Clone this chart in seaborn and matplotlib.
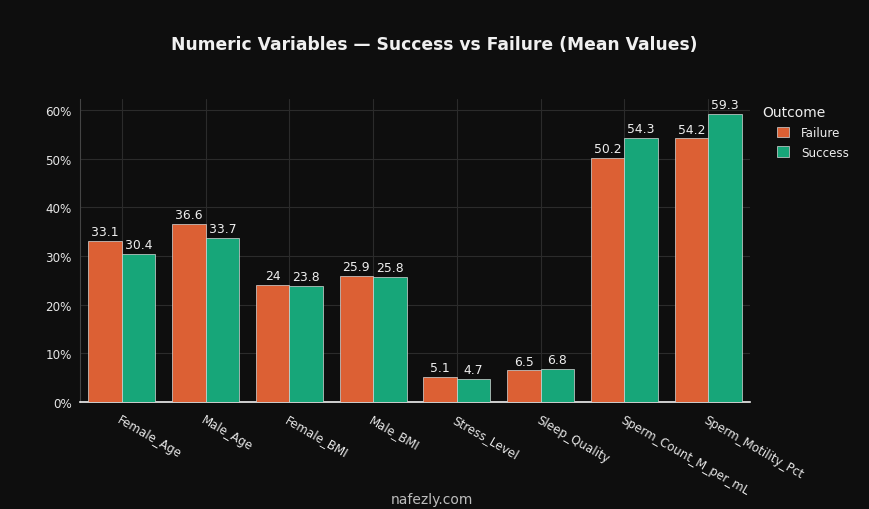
import matplotlib
matplotlib.use("Agg")
import matplotlib.pyplot as plt
import seaborn as sns
import pandas as pd

variables = ["Female_Age", "Male_Age", "Female_BMI", "Male_BMI", "Stress_Level",
             "Sleep_Quality", "Sperm_Count_M_per_mL", "Sperm_Motility_Pct"]
failure = [33.1, 36.6, 24.0, 25.9, 5.1, 6.5, 50.2, 54.2]
success = [30.4, 33.7, 23.8, 25.8, 4.7, 6.8, 54.3, 59.3]
failure_labels = ["33.1", "36.6", "24", "25.9", "5.1", "6.5", "50.2", "54.2"]
success_labels = ["30.4", "33.7", "23.8", "25.8", "4.7", "6.8", "54.3", "59.3"]
yticks = [0, 10, 20, 30, 40, 50, 60]
outcomes = ["Failure", "Success"]

df = pd.DataFrame({
    "Variable": variables * 2,
    "Mean": failure + success,
    "Outcome": ["Failure"] * len(variables) + ["Success"] * len(variables),
})

BG = "#0e0e0e"
sns.set_theme(style="dark")
plt.rcParams["font.family"] = ["DejaVu Sans"]

fig = plt.figure(figsize=(8.69, 5.10), dpi=100, facecolor=BG)
ax = fig.add_axes([80 / 869, (510 - 403) / 510, 670 / 869, (403 - 100) / 510])
ax.set_facecolor(BG)

palette = {"Failure": "#dc6034", "Success": "#17a679"}
sns.barplot(data=df, x="Variable", y="Mean", hue="Outcome", hue_order=outcomes,
            palette=palette, width=0.8, ax=ax, edgecolor="#d8d8d8",
            linewidth=0.5, saturation=1, legend=True, zorder=3)

for cont, labs in zip(ax.containers, [failure_labels, success_labels]):
    ax.bar_label(cont, labels=labs, padding=2, color="#eeeeee", fontsize=8.9)

ax.set_xlim(-0.5, 7.5)
ax.set_ylim(0, 62.3)
ax.set_yticks(yticks)
ax.set_yticklabels([f"{v}%" for v in yticks], color="#e6e6e6", fontsize=8.6)
ax.set_xticks(range(len(variables)))
ax.set_xticklabels(variables, rotation=-30, ha="left", rotation_mode="anchor",
                   color="#e6e6e6", fontsize=8.6)
ax.tick_params(axis="x", length=0, pad=8)
ax.tick_params(axis="y", length=0, pad=6)
ax.set_xlabel("")
ax.set_ylabel("")
ax.grid(True, color="#2b2b2b", linewidth=0.8, zorder=0)
ax.set_axisbelow(True)
for s in ["top", "right"]:
    ax.spines[s].set_visible(False)
ax.spines["left"].set_color("#444444")
ax.spines["left"].set_linewidth(0.8)
ax.spines["bottom"].set_color("#f0f0f0")
ax.spines["bottom"].set_linewidth(1.2)

leg = ax.legend(loc="upper left", bbox_to_anchor=(771 / 869, 1 - 121 / 510),
                bbox_transform=fig.transFigure,
                frameon=False, fontsize=8.6, borderpad=0, labelspacing=0.55,
                handlelength=1.0, handleheight=1.0, labelcolor="#eeeeee",
                handletextpad=1.0)
fig.text(762 / 869, 1 - 113 / 510, "Outcome", ha="left", va="center",
         color="#eeeeee", fontsize=10)

fig.text(434 / 869, 1 - 45 / 510, "Numeric Variables — Success vs Failure (Mean Values)",
         ha="center", va="center", color="#f0f0f0", fontsize=12.3, fontweight="bold")
fig.text(432 / 869, 1 - 500 / 510, "nafezly.com", ha="center", va="center",
         color="#bdbdbd", fontsize=10)

fig.savefig("out.png", dpi=100, facecolor=BG)
